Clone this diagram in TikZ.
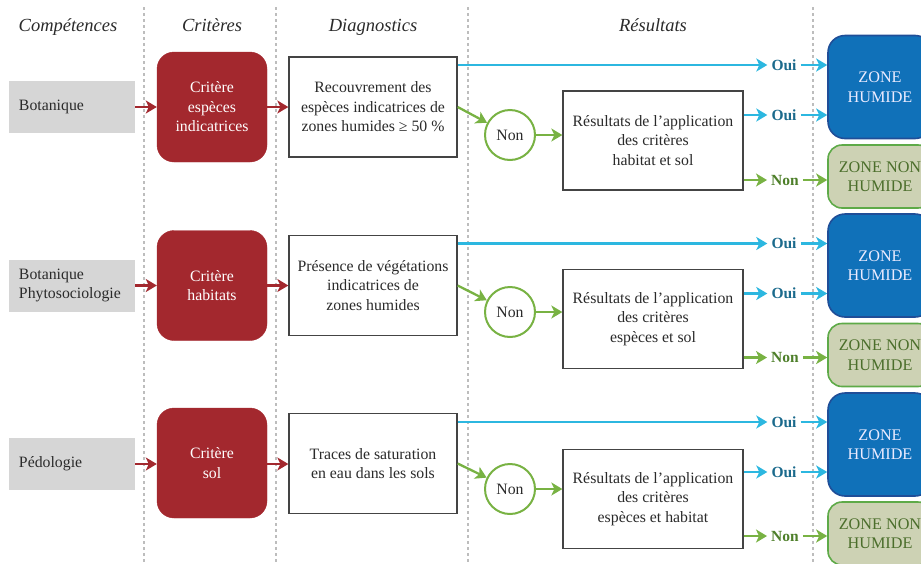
\documentclass[tikz,border=0pt]{standalone}
\usepackage{fontspec}
\setmainfont{Liberation Serif}
\usetikzlibrary{arrows.meta}
\definecolor{critred}{HTML}{A3282E}
\definecolor{greybox}{HTML}{D6D6D6}
\definecolor{zoneblue}{HTML}{1071B9}
\definecolor{zoneblueedge}{HTML}{1F4E98}
\definecolor{khaki}{HTML}{CDD2B4}
\definecolor{khakiedge}{HTML}{5EAA48}
\definecolor{khakitext}{HTML}{4B6E2B}
\definecolor{cyanline}{HTML}{2CB7E0}
\definecolor{greenline}{HTML}{78B243}
\definecolor{ouitext}{HTML}{1B6A8C}
\definecolor{nontext}{HTML}{4E7F2A}
\definecolor{dashgrey}{HTML}{BDBDBD}
\definecolor{boxedge}{HTML}{444444}
\definecolor{txt}{HTML}{2A2A2A}
\tikzset{
  body/.style={font=\fontsize{15.8}{19.5}\selectfont, text=txt},
  header/.style={font=\fontsize{18.5}{22}\selectfont\itshape, text=txt, anchor=base},
  greybx/.style={body, fill=greybox, draw=none, minimum height=52pt, text width=106pt, inner xsep=10pt, align=left},
  crit/.style={body, fill=critred, draw=critred, text=white, rounded corners=17pt, minimum width=110pt, minimum height=110pt, align=center, inner sep=2pt},
  diag/.style={body, draw=boxedge, line width=1.3pt, fill=white, minimum width=168pt, minimum height=100pt, align=center, inner sep=2pt},
  nonc/.style={body, circle, draw=greenline, line width=2pt, fill=white, minimum size=50pt, inner sep=0pt},
  res/.style={body, draw=boxedge, line width=1.3pt, fill=white, minimum width=180pt, minimum height=99pt, align=center, inner sep=2pt},
  zh/.style={font=\fontsize{16.2}{19.5}\selectfont, text=white!92!blue, fill=zoneblue, draw=zoneblueedge, line width=1.6pt, rounded corners=17pt, minimum width=104pt, minimum height=103pt, align=center, inner sep=2pt},
  znh/.style={font=\fontsize{16.2}{19.5}\selectfont, text=khakitext, fill=khaki, draw=khakiedge, line width=1.6pt, rounded corners=14pt, minimum width=104pt, minimum height=63pt, align=center, inner sep=2pt},
  ouil/.style={font=\fontsize{15.5}{18}\selectfont\bfseries, text=ouitext, inner xsep=4pt, inner ysep=2pt},
  nonl/.style={font=\fontsize{15.5}{18}\selectfont\bfseries, text=nontext, inner xsep=4pt, inner ysep=2pt},
  tip/.style={-{Stealth[length=11pt,width=13pt,inset=3pt]}},
  redarr/.style={tip, draw=critred, line width=2.3pt},
  cyanarr/.style={tip, draw=cyanline, line width=2.3pt},
  greenarr/.style={tip, draw=greenline, line width=2.3pt},
  sep/.style={draw=dashgrey, line width=1.1pt, dash pattern=on 3pt off 3pt}
}
\begin{document}
\begin{tikzpicture}[x=1pt,y=-1pt]
\useasboundingbox (0,0) rectangle (921,563);
\clip (0,0) rectangle (921,563);
% column separators
\coordinate (s1t) at (144,7);   \coordinate (s1b) at (144,563);
\coordinate (s2t) at (276,7);   \coordinate (s2b) at (276,563);
\coordinate (s3t) at (468,7);   \coordinate (s3b) at (468,563);
\coordinate (s4t) at (813,7);   \coordinate (s4b) at (813,563);
\draw[sep] (s1t) -- (s1b);
\draw[sep] (s2t) -- (s2b);
\draw[sep] (s3t) -- (s3b);
\draw[sep] (s4t) -- (s4b);
% headers
\node[header] (h1) at (68,31.5) {Compétences};
\node[header] (h2) at (212,31.5) {Critères};
\node[header] (h3) at (373,31.5) {Diagnostics};
\node[header] (h4) at (653,31.5) {Résultats};

% ---------- row 1 ----------
\node[greybx] (g1) at (72,107) {Botanique};
\node[crit] (c1) at (212,107) {Critère\\espèces\\indicatrices};
\node[diag] (w1) at (373,107) {Recouvrement des\\espèces indicatrices de\\zones humides ≥ 50~\%};
\node[nonc] (n1) at (510,135) {Non};
\node[res] (r1) at (653,140.5) {Résultats de l’application\\des critères\\habitat et sol};
\node[zh] (zh1) at (880,87) {ZONE\\HUMIDE};
\node[znh] (znh1) at (880,176.5) {ZONE NON\\HUMIDE};
\node[ouil] (oa1) at (784,65) {Oui};
\node[ouil] (ob1) at (784,115) {Oui};
\node[nonl] (nc1) at (785,180) {Non};
\draw[redarr] (g1) -- (c1);
\draw[redarr] (c1) -- (w1);
\draw[cyanarr] (w1.east |- oa1) -- (oa1);
\draw[cyanarr] (oa1) -- (zh1.west |- oa1);
\draw[greenarr] (w1.east) -- (n1);
\draw[greenarr] (n1) -- (r1.west |- n1);
\draw[cyanarr] (r1.east |- ob1) -- (ob1);
\draw[cyanarr] (ob1) -- (zh1.west |- ob1);
\draw[greenarr] (r1.east |- nc1) -- (nc1);
\draw[greenarr] (nc1) -- (znh1.west |- nc1);

% ---------- row 2 ----------
\node[greybx] (g2) at (72,285.5) {Botanique\\Phytosociologie};
\node[crit] (c2) at (212,285.5) {Critère\\habitats};
\node[diag] (w2) at (373,285.5) {Présence de végétations\\indicatrices de\\zones humides};
\node[nonc] (n2) at (510,312) {Non};
\node[res] (r2) at (653,319) {Résultats de l’application\\des critères\\espèces et sol};
\node[zh] (zh2) at (880,265.5) {ZONE\\HUMIDE};
\node[znh] (znh2) at (880,355) {ZONE NON\\HUMIDE};
\node[ouil] (oa2) at (784,243.5) {Oui};
\node[ouil] (ob2) at (784,293.5) {Oui};
\node[nonl] (nc2) at (785,357.5) {Non};
\draw[redarr] (g2) -- (c2);
\draw[redarr] (c2) -- (w2);
\draw[cyanarr] (w2.east |- oa2) -- (oa2);
\draw[cyanarr] (oa2) -- (zh2.west |- oa2);
\draw[greenarr] (w2.east) -- (n2);
\draw[greenarr] (n2) -- (r2.west |- n2);
\draw[cyanarr] (r2.east |- ob2) -- (ob2);
\draw[cyanarr] (ob2) -- (zh2.west |- ob2);
\draw[greenarr] (r2.east |- nc2) -- (nc2);
\draw[greenarr] (nc2) -- (znh2.west |- nc2);

% ---------- row 3 ----------
\node[greybx] (g3) at (72,464) {Pédologie};
\node[crit] (c3) at (212,463) {Critère\\sol};
\node[diag] (w3) at (373,463.5) {Traces de saturation\\en eau dans les sols};
\node[nonc] (n3) at (510,489) {Non};
\node[res] (r3) at (653,499) {Résultats de l’application\\des critères\\espèces et habitat};
\node[zh] (zh3) at (880,444.5) {ZONE\\HUMIDE};
\node[znh] (znh3) at (880,533.5) {ZONE NON\\HUMIDE};
\node[ouil] (oa3) at (784,422) {Oui};
\node[ouil] (ob3) at (784,472) {Oui};
\node[nonl] (nc3) at (785,536) {Non};
\draw[redarr] (g3) -- (c3.west |- g3);
\draw[redarr] (c3.east |- g3) -- (w3.west |- g3);
\draw[cyanarr] (w3.east |- oa3) -- (oa3);
\draw[cyanarr] (oa3) -- (zh3.west |- oa3);
\draw[greenarr] (w3.east) -- (n3);
\draw[greenarr] (n3) -- (r3.west |- n3);
\draw[cyanarr] (r3.east |- ob3) -- (ob3);
\draw[cyanarr] (ob3) -- (zh3.west |- ob3);
\draw[greenarr] (r3.east |- nc3) -- (nc3);
\draw[greenarr] (nc3) -- (znh3.west |- nc3);
\end{tikzpicture}
\end{document}
